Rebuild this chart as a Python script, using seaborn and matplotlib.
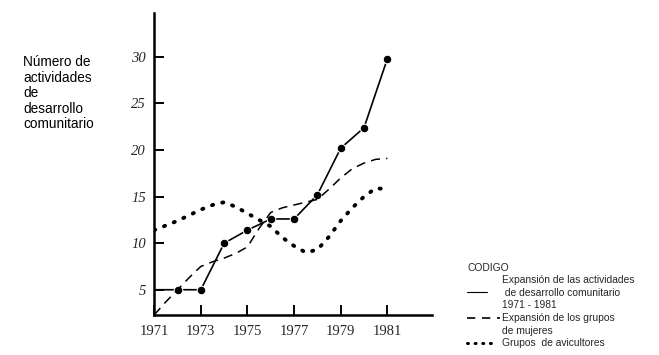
import matplotlib
matplotlib.use("Agg")
import matplotlib.pyplot as plt
import seaborn as sns
import numpy as np
from matplotlib.lines import Line2D

sns.set_theme(style="white")
plt.rcParams['font.family'] = ['Liberation Sans', 'DejaVu Sans']

# Data
act_years = [1971, 1972, 1973, 1974, 1975, 1976, 1977, 1978, 1979, 1980, 1981]
act_values = [5.0, 5.0, 5.0, 10.0, 11.4, 12.6, 12.6, 15.2, 20.2, 22.4, 29.8]

half_years = [1971, 1971.5, 1972, 1972.5, 1973, 1973.5, 1974, 1974.5, 1975, 1975.5,
              1976, 1976.5, 1977, 1977.5, 1978, 1978.5, 1979, 1979.5, 1980, 1980.5, 1981]
mujeres = [2.3, 3.7, 5.0, 6.3, 7.5, 8.0, 8.4, 8.9, 9.6, 11.6,
           13.3, 13.8, 14.1, 14.4, 14.7, 15.8, 17.0, 18.0, 18.6, 19.0, 19.1]
avicultores = [11.4, 11.9, 12.4, 13.0, 13.6, 14.1, 14.4, 13.9, 13.2, 12.5,
               11.8, 10.6, 9.7, 9.0, 9.3, 10.7, 12.4, 13.8, 15.0, 15.9, 15.8]

x_ticks = [1971, 1973, 1975, 1977, 1979, 1981]
y_ticks = [5, 10, 15, 20, 25, 30]

y_label_lines = ["Número de", "actividades", "de", "desarrollo", "comunitario"]
legend_title = "CODIGO"
legend_entries = [
    ("solid", ["Expansión de las actividades", " de desarrollo comunitario", "1971 - 1981"]),
    ("dashed", ["Expansión de los grupos", "de mujeres"]),
    ("dotted", ["Grupos  de avicultores"]),
]

fig = plt.figure(figsize=(6.59, 3.55), dpi=100)
ax = fig.add_axes([0.234, 0.113, 0.421, 0.85])

sns.lineplot(x=act_years, y=act_values, ax=ax, color='black', linewidth=1.2,
             marker='o', markersize=6.2, markevery=list(range(1, len(act_years))))
sns.lineplot(x=half_years, y=mujeres, ax=ax, color='black', linewidth=1.1,
             linestyle=(0, (6, 4)))
sns.lineplot(x=half_years, y=avicultores, ax=ax, color='black', linewidth=2.8,
             linestyle=(0, (0.3, 2.4)), dash_capstyle='round')

ax.set_xlim(1971, 1982.9)
ax.set_ylim(2.3, 34.7)
for s in ['top', 'right']:
    ax.spines[s].set_visible(False)
for s in ['left', 'bottom']:
    ax.spines[s].set_color('black')
    ax.spines[s].set_linewidth(1.8)

ax.set_xticks(x_ticks)
ax.set_xticklabels([str(t) for t in x_ticks], family='Liberation Serif', fontsize=10.5)
ax.set_yticks(y_ticks)
ax.set_yticklabels([str(t) for t in y_ticks], family='Liberation Serif',
                   style='italic', fontsize=10.5)
ax.tick_params(axis='both', direction='in', length=7, width=1.4, color='black',
               bottom=True, left=True)
ax.tick_params(axis='x', pad=7)
ax.tick_params(axis='y', pad=6)
ax.set_xlabel("")
ax.set_ylabel("")
ax.grid(False)

# y label block
for i, line in enumerate(y_label_lines):
    fig.text(23 / 659, 1 - (62 + i * 15.6) / 355, line, fontsize=9.8,
             va='center', ha='left', color='black')

# code legend
fig.text(467 / 659, 1 - 268 / 355, legend_title, fontsize=7.4, va='center', ha='left')
styles = {
    "solid": dict(linestyle='-', linewidth=0.8),
    "dashed": dict(linestyle=(0, (5, 4)), linewidth=1.2),
    "dotted": dict(linestyle=(0, (0.3, 2.2)), linewidth=2.2, dash_capstyle='round'),
}
handle_y = {"solid": 292, "dashed": 318, "dotted": 343}
text_y = {"solid": 280, "dashed": 318, "dotted": 343}
handle_end = {"solid": 487, "dashed": 500, "dotted": 496}
for key, lines in legend_entries:
    hy = 1 - handle_y[key] / 355
    x0 = 467 / 659
    x1 = handle_end[key] / 659
    fig.add_artist(Line2D([x0, x1], [hy, hy], color='black',
                          transform=fig.transFigure, **styles[key]))
    for j, t in enumerate(lines):
        fig.text(502 / 659, 1 - (text_y[key] + j * 12.6) / 355, t, fontsize=7.4,
                 va='center', ha='left')

fig.savefig("out.png", dpi=100, facecolor='white')
